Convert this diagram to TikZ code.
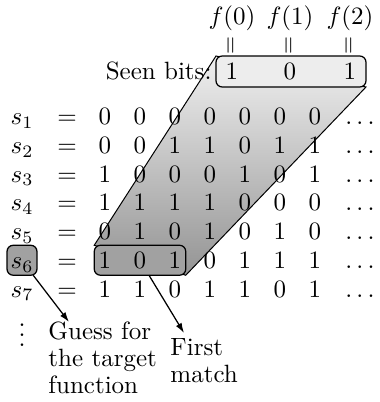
\documentclass[tikz,border=0pt]{standalone}
\usepackage{amsmath}
\usepackage{tikz}
\usetikzlibrary{
  arrows.meta,
  backgrounds,
  fit
}
\tikzset{>=Latex}
\tikzset{
  cell/.style={inner sep=0pt,text height=6.4pt,text depth=0pt,anchor=base},
  hilite/.style={draw=black,line width=0.5pt,rounded corners=2.5pt},
  pointer/.style={->,line width=0.5pt,>={Latex[length=4pt,width=2.6pt]}},
  note/.style={inner sep=0pt,align=left,font=\fontsize{10}{10.8}\selectfont}
}

\begin{document}
\begin{tikzpicture}[x=0.4pt,y=-0.4pt]
\useasboundingbox (0,0) rectangle (380,402);
% the table of candidate strings
\foreach \bits [count=\i] in {{0,0,0,0,0,0,0},{0,0,1,1,0,1,1},{1,0,0,0,1,0,1},
    {1,1,1,1,0,0,0},{0,1,0,1,0,1,0},{1,0,1,0,1,1,1},{1,1,0,1,1,0,1}}{
  \pgfmathsetmacro\yy{124.5+28.75*(\i-1)}
  \node[cell] (s\i) at (22,\yy) {$s_{\i}$};
  \node[cell] (eq\i) at (67,\yy) {$=$};
  \foreach \b [count=\j] in \bits
    \node[cell] (c\i-\j) at ({70+35*\j},\yy) {$\b$};
  \node[cell] (dots\i) at (362,\yy) {$\dots$};
}
\node[inner sep=0pt] (vdots) at (22,328) {$\vdots$};
% seen bits
\node[cell,anchor=base east] (seenlab) at (212,79.5) {Seen bits:};
\foreach \b/\x/\n [count=\k] in {1/232/0,0/290/1,1/350/2}{
  \node[cell] (b\k) at (\x,79.5) {$\b$};
  \node[rotate=90,inner sep=0pt,font=\small] (par\k) at (\x,45) {$=$};
  \node[anchor=base,inner sep=0pt] (f\k) at (\x,24.5) {$f(\n)$};
}
% boxes
\node[fit=(b1)(b3),inner xsep=3.5pt,inner ysep=2.6pt] (seen) {};
\node[fit=(c6-1)(c6-3),inner xsep=1.4pt,inner ysep=2.4pt] (match) {};
\node[fit=(s6),inner xsep=1pt,inner ysep=2.4pt] (guess) {};
\begin{scope}[on background layer]
  \draw[line width=0.4pt,top color=black!6,bottom color=black!42]
    (match.north west) -- (seen.north west) -- (seen.south east) -- (match.south east) -- cycle;
  \draw[hilite,fill=black!7] (seen.north west) rectangle (seen.south east);
  \draw[hilite,fill=black!37] (match.north west) rectangle (match.south east);
  \draw[hilite,fill=black!37] (guess.north west) rectangle (guess.south east);
\end{scope}
% notes
\node[note,anchor=north west] (guesstxt) at (48,321.6) {Guess for\\the target\\function};
\node[note,anchor=north west] (matchtxt) at (170,337.6) {First\\match};
\coordinate (guesstip) at (69,322);
\coordinate (matchtip) at (184,333);
\draw[pointer] ([xshift=-1.5pt]guess.south east) -- (guesstip);
\draw[pointer] ([xshift=3.6pt]match.south) -- (matchtip);
\end{tikzpicture}
\end{document}
